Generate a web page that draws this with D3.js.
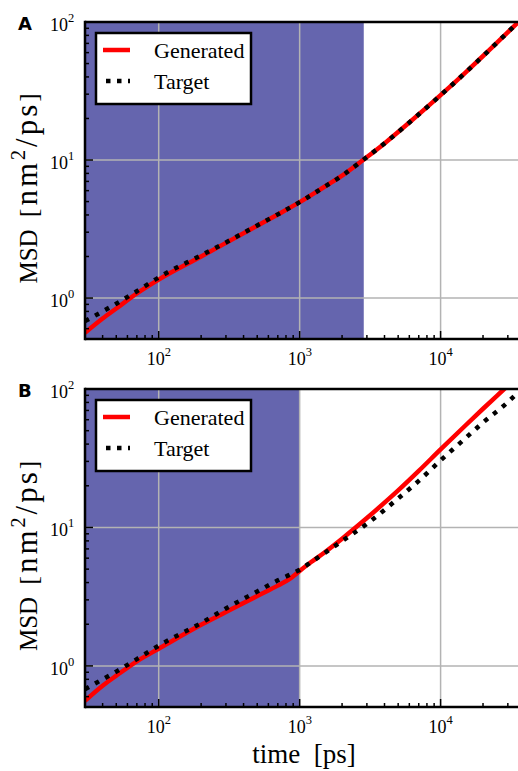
<!DOCTYPE html>
<html>
<head>
<meta charset="utf-8">
<script src="https://cdn.jsdelivr.net/npm/d3@7"></script>
<style>
body{margin:0;background:#fff}
text{font-family:"Liberation Serif","Times New Roman",serif;fill:#000}
</style>
</head>
<body>
<div id="chart"></div>
<script>
// time points (ps)
const timesA = [30,40,50,70,100,200,300,500,700,1000,1500,2000,2850,4000,6000,10000,15000,20000,36000];
const genA   = [0.56,0.71,0.84,1.08,1.36,2.0,2.51,3.34,4.03,4.95,6.4,7.7,10.1,13.2,18.7,29.5,43,56.7,101];
const tgtA   = [0.68,0.80,0.91,1.12,1.41,2.04,2.53,3.36,4.04,4.95,6.4,7.7,10.1,13.2,18.7,29.5,43,56.7,101];

const timesB = [30,40,50,70,100,200,300,500,700,850,1000,1200,1500,2000,3000,5000,7000,10000,15000,20000,29000,36000];
const genB   = [0.56,0.72,0.85,1.08,1.33,1.98,2.45,3.2,3.8,4.25,4.85,5.6,6.6,8.3,11.7,18.5,25.6,36.6,54.5,72,102.5,126];
const tgtB   = [0.68,0.80,0.91,1.12,1.40,2.04,2.6,3.45,4.15,4.55,4.95,5.6,6.53,7.98,10.6,16.2,21.7,30.5,44.1,57.3,78,96];

const shadeEnd = [2850, 1000];
const panelNames = ["A", "B"];
const xDecades = [100, 1000, 10000];
const yDecades = [1, 10, 100];
const seriesNames = ["Generated", "Target"];

const W = 518, H = 771;
const left = 85, right = 519;
const tops = [22, 389], bottoms = [339, 707];

const svg = d3.select("#chart").append("svg")
    .attr("width", W).attr("height", H);

const panels = [
  {times: timesA, gen: genA, tgt: tgtA},
  {times: timesB, gen: genB, tgt: tgtB}
];

panels.forEach((p, k) => {
  let top = tops[k], bottom = bottoms[k];
  let x = d3.scaleLog().domain([30, 36000]).range([left, right]);
  let y = d3.scaleLog().domain([0.505, 100]).range([bottom, top]);

  let g = svg.append("g");
  let clipId = "clip" + k;
  g.append("clipPath").attr("id", clipId).append("rect")
    .attr("x", left).attr("y", top).attr("width", right-left).attr("height", bottom-top);

  // shaded region
  g.append("rect")
    .attr("x", x(30)).attr("y", top)
    .attr("width", x(shadeEnd[k]) - x(30))
    .attr("height", bottom - top)
    .attr("fill", "#6565ae");

  // grid
  g.selectAll(".vgrid").data(xDecades).enter().append("line")
    .attr("x1", d => x(d)).attr("x2", d => x(d))
    .attr("y1", top).attr("y2", bottom)
    .attr("stroke", "#b3b3b3").attr("stroke-width", 1.5);
  g.selectAll(".hgrid").data(yDecades.slice(0, 2)).enter().append("line")
    .attr("x1", left).attr("x2", right)
    .attr("y1", d => y(d)).attr("y2", d => y(d))
    .attr("stroke", "#b3b3b3").attr("stroke-width", 1.5);

  let line = d3.line()
    .x((d, i) => x(p.times[i]))
    .y(d => y(d))
    .curve(d3.curveMonotoneX);

  let plot = g.append("g").attr("clip-path", "url(#" + clipId + ")");
  plot.append("path").datum(p.gen)
    .attr("d", line).attr("fill", "none")
    .attr("stroke", "#ff0000").attr("stroke-width", 4.5);
  plot.append("path").datum(p.tgt)
    .attr("d", line).attr("fill", "none")
    .attr("stroke", "#000").attr("stroke-width", 4.5)
    .attr("stroke-dasharray", "4.5,7");

  // ticks (inward)
  let isMajor = v => Math.abs(Math.log10(v) - Math.round(Math.log10(v))) < 1e-9;
  let xt = x.ticks().filter(v => v > 30 && v < 36000);
  g.selectAll(".xtick").data(xt).enter().append("line")
    .attr("x1", d => x(d)).attr("x2", d => x(d))
    .attr("y1", bottom).attr("y2", d => bottom - (isMajor(d) ? 8 : 4))
    .attr("stroke", "#000").attr("stroke-width", 1.5);
  let yt = y.ticks().filter(v => v > 0.505 && v < 100);
  g.selectAll(".ytick").data(yt).enter().append("line")
    .attr("x1", left).attr("x2", d => left + (isMajor(d) ? 8 : 4))
    .attr("y1", d => y(d)).attr("y2", d => y(d))
    .attr("stroke", "#000").attr("stroke-width", 1.5);

  // spines
  g.append("line").attr("x1", left).attr("x2", right).attr("y1", top).attr("y2", top)
    .attr("stroke", "#000").attr("stroke-width", 2.5);
  g.append("line").attr("x1", left).attr("x2", right).attr("y1", bottom).attr("y2", bottom)
    .attr("stroke", "#000").attr("stroke-width", 2.5);
  g.append("line").attr("x1", left).attr("x2", left).attr("y1", top - 1.25).attr("y2", bottom + 1.25)
    .attr("stroke", "#000").attr("stroke-width", 2.5);

  // tick labels
  xDecades.forEach(v => {
    let t = g.append("text").attr("x", x(v) - 12).attr("y", bottom + 26)
      .attr("font-size", 18);
    t.append("tspan").text("10");
    t.append("tspan").attr("font-size", 12.5).attr("dy", -9).text(Math.round(Math.log10(v)));
  });
  yDecades.forEach(v => {
    let t = g.append("text").attr("x", left - 35).attr("y", y(v) + 9)
      .attr("font-size", 18);
    t.append("tspan").text("10");
    t.append("tspan").attr("font-size", 12.5).attr("dy", -9).text(Math.round(Math.log10(v)));
  });

  // y label
  let yl = g.append("text")
    .attr("transform", "translate(37," + ((top + bottom) / 2 + 8) + ")rotate(-90)")
    .attr("text-anchor", "middle").attr("font-size", 25);
  yl.append("tspan").text("MSD\u00a0\u00a0");
  yl.append("tspan").attr("letter-spacing", 3).text("[");
  yl.append("tspan").attr("font-size", 31).attr("letter-spacing", 3).text("nm");
  yl.append("tspan").attr("font-size", 20).attr("dy", -12).attr("letter-spacing", 3).text("2");
  yl.append("tspan").attr("font-size", 31).attr("dy", 12).attr("letter-spacing", 3).text("/ps");
  yl.append("tspan").text("]");

  // panel label
  g.append("text").attr("x", 18).attr("y", top + 8)
    .style("font-family", "'DejaVu Sans',sans-serif")
    .attr("font-weight", "bold").attr("font-size", 18).text(panelNames[k]);

  // legend
  let lg = g.append("g");
  lg.append("rect").attr("x", 96).attr("y", top + 11).attr("width", 155).attr("height", 71)
    .attr("fill", "#fff").attr("stroke", "#000").attr("stroke-width", 2.5);
  lg.append("line").attr("x1", 103).attr("x2", 130).attr("y1", top + 28).attr("y2", top + 28)
    .attr("stroke", "#ff0000").attr("stroke-width", 4.5);
  lg.append("line").attr("x1", 106).attr("x2", 130).attr("y1", top + 59).attr("y2", top + 59)
    .attr("stroke", "#000").attr("stroke-width", 4.5).attr("stroke-dasharray", "4.5,6.5");
  lg.append("text").attr("x", 154).attr("y", top + 36).attr("font-size", 22).text(seriesNames[0]);
  lg.append("text").attr("x", 154).attr("y", top + 67).attr("font-size", 22).text(seriesNames[1]);
});

// x label
svg.append("text").attr("x", 304).attr("y", 763)
  .attr("text-anchor", "middle").attr("font-size", 27).text("time\u00a0\u00a0[ps]");
</script>
</body>
</html>
